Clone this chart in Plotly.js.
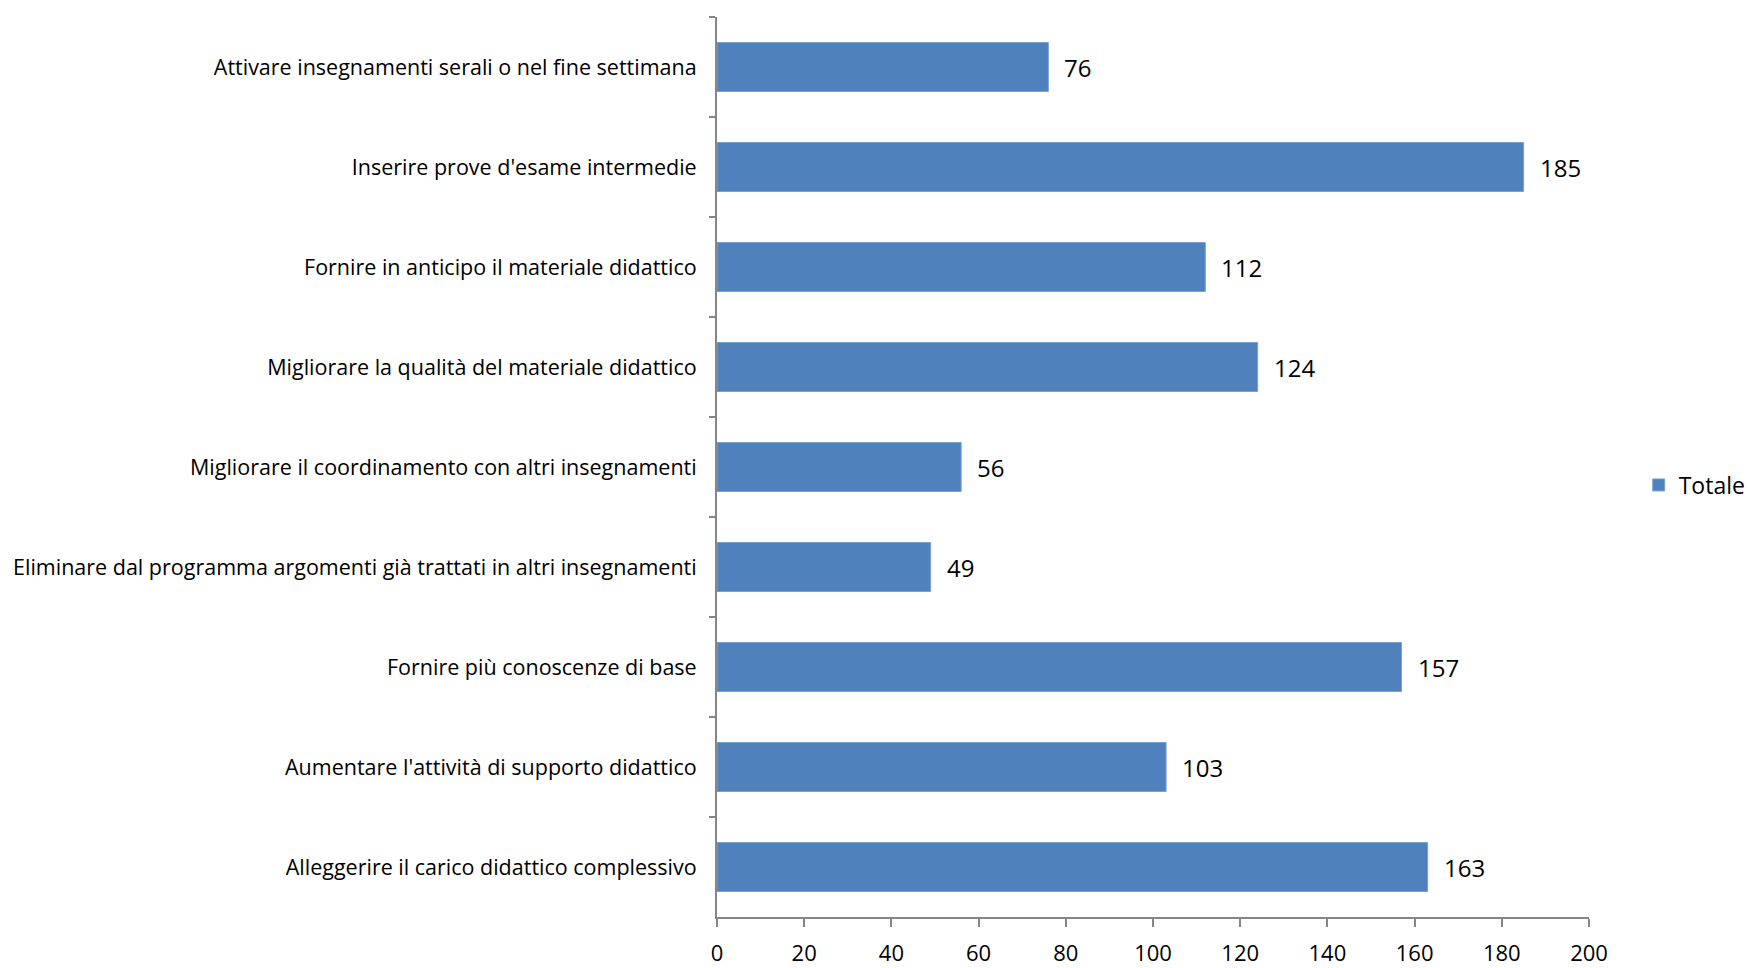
<!DOCTYPE html>
<html><head><meta charset="utf-8">
<script src="https://cdn.plot.ly/plotly-3.0.1.min.js"></script>
<style>html,body{margin:0;padding:0;background:#fff}#chart{width:1748px;height:968px}</style>
</head><body><div id="chart"></div>
<script>
const categories = [
  "Attivare insegnamenti serali o nel fine settimana",
  "Inserire prove d'esame intermedie",
  "Fornire in anticipo il materiale didattico",
  "Migliorare la qualità del materiale didattico",
  "Migliorare il coordinamento con altri insegnamenti",
  "Eliminare dal programma argomenti già trattati in altri insegnamenti",
  "Fornire più conoscenze di base",
  "Aumentare l'attività di supporto didattico",
  "Alleggerire il carico didattico complessivo"
];
const totale = [76, 185, 112, 124, 56, 49, 157, 103, 163];
const seriesName = "Totale";
const xTicks = [0, 20, 40, 60, 80, 100, 120, 140, 160, 180, 200];

const FONT = "'Open Sans', sans-serif";

const trace = {
  type: 'bar', orientation: 'h',
  x: totale, y: categories, name: seriesName,
  marker: {color: '#4F81BD', line: {color: '#7ba0d0', width: 1}},
  hoverinfo: 'x+y'
};

const annotations = totale.map((v, i) => ({
  x: v, y: categories[i], xref: 'x', yref: 'y',
  text: String(v), showarrow: false, xanchor: 'left', xshift: 14,
  font: {family: FONT, size: 24, color: '#000'}
}));

const layout = {
  width: 1748, height: 968,
  margin: {l: 717, r: 159, t: 17, b: 51, pad: 0, autoexpand: false},
  paper_bgcolor: '#fff', plot_bgcolor: '#fff',
  font: {family: FONT, size: 21.5, color: '#000'},
  bargap: 0.51,
  showlegend: true,
  legend: {x: 1.057, xanchor: 'left', y: 0.48, yanchor: 'middle', font: {family: FONT, size: 23, color: '#000'}, itemwidth: 30, bgcolor: 'rgba(0,0,0,0)'},
  xaxis: {
    range: [0, 200], tickvals: xTicks, ticktext: xTicks.map(String),
    showgrid: false, zeroline: false,
    showline: true, linecolor: '#868686', linewidth: 2,
    ticks: 'outside', ticklen: 8, tickcolor: '#868686', tickwidth: 2,
    ticklabelstandoff: 8,
    tickfont: {family: FONT, size: 22, color: '#000'}
  },
  yaxis: {
    type: 'category', autorange: 'reversed',
    showgrid: false, zeroline: false,
    showline: true, linecolor: '#868686', linewidth: 2,
    ticks: 'outside', ticklen: 6, tickcolor: '#868686', tickwidth: 2,
    tickson: 'boundaries', ticklabelstandoff: 14,
    tickfont: {family: FONT, size: 21.5, color: '#000'}
  },
  annotations: annotations
};

Plotly.newPlot('chart', [trace], layout, {displayModeBar: false, staticPlot: true});
</script></body></html>
